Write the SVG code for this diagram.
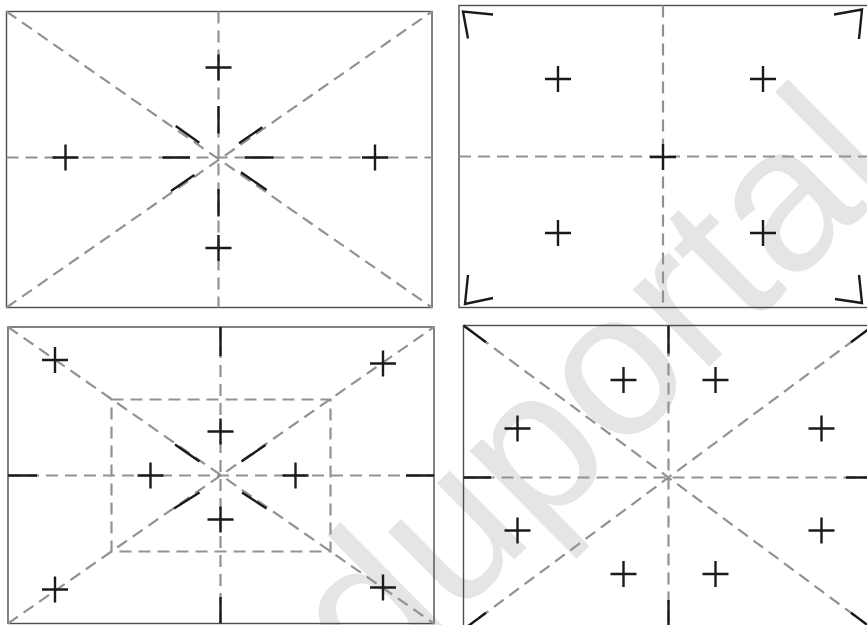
<svg xmlns="http://www.w3.org/2000/svg" xmlns:xlink="http://www.w3.org/1999/xlink" width="867" height="625" viewBox="0 0 867 625">
<style>
.frame{fill:none;stroke:#4d4d4d;stroke-width:1.4}
.dash{fill:none;stroke:#929292;stroke-width:2.2;stroke-dasharray:12 7}
.mark{fill:none;stroke:#1a1a1a;stroke-width:2.4}
.wm{font-family:"Liberation Sans",Arial,sans-serif;font-size:206px;fill:#e5e5e5}
</style>
<defs>
<path id="cross" d="M-13 0H13M0-13V13"/>
</defs>
<rect width="867" height="625" fill="#ffffff"/>
<text class="wm" x="373.7" y="699.2" transform="rotate(-44.7 373.7 699.2)">duportal</text>

<g id="panel1">
<rect class="frame" x="6.5" y="11.5" width="425.5" height="296"/>
<path class="dash" d="M6.5 11.5L432 307.5M6.5 307.5L432 11.5M218.5 11.5V307.5M6.5 157.5H432"/>
<path class="mark" d="M218.5 106V133.5M218.5 189V216.5M162.5 157.5H190M245 157.5H273.5M175.7 126L199.3 142.7M239 143.3L262.3 127.3M171 191L194.3 175M241 172.3L266.7 190"/>
<use xlink:href="#cross" class="mark" x="218.5" y="67.5"/>
<use xlink:href="#cross" class="mark" x="218.5" y="248"/>
<use xlink:href="#cross" class="mark" x="65.5" y="157.5"/>
<use xlink:href="#cross" class="mark" x="375" y="157.5"/>
</g>

<g id="panel2">
<rect class="frame" x="459" y="5.5" width="410" height="302"/>
<path class="dash" d="M663 5.5V307.5M459 156.5H869"/>
<path class="mark" d="M493 14.5L463 11.5L468 38.5M834 14.5L862 9.5L859 39M493 298L465 304L468 275M835 299L862 303L859 275"/>
<use xlink:href="#cross" class="mark" x="558" y="79"/>
<use xlink:href="#cross" class="mark" x="763" y="79"/>
<use xlink:href="#cross" class="mark" x="558" y="233"/>
<use xlink:href="#cross" class="mark" x="763" y="233"/>
<use xlink:href="#cross" class="mark" x="663" y="157"/>
</g>

<g id="panel3">
<rect class="frame" x="8" y="327" width="426" height="296.5"/>
<path class="dash" d="M8 327L434 623.5M8 623.5L434 327M220.5 327V623.5M8 475.5H434"/>
<rect class="dash" x="111.5" y="399.5" width="219" height="152"/>
<path class="mark" d="M220.5 327V356M220.5 597V623.5M8 475.5H37M406 475.5H434M175 444.5L199.5 461.5M241.5 461.5L265.5 445M174 508.5L199.5 492.5M242 492.5L266.5 508.5"/>
<use xlink:href="#cross" class="mark" x="55" y="360"/>
<use xlink:href="#cross" class="mark" x="383" y="363.5"/>
<use xlink:href="#cross" class="mark" x="55" y="589.5"/>
<use xlink:href="#cross" class="mark" x="383" y="587.5"/>
<use xlink:href="#cross" class="mark" x="220.5" y="431.5"/>
<use xlink:href="#cross" class="mark" x="150.5" y="475.5"/>
<use xlink:href="#cross" class="mark" x="295.5" y="475.5"/>
<use xlink:href="#cross" class="mark" x="220.5" y="519.5"/>
</g>

<g id="panel4">
<rect class="frame" x="463.5" y="325.5" width="410" height="304"/>
<path class="dash" d="M463.5 325.5L873.5 629.5M463.5 629.5L873.5 325.5M668.5 325.5V629.5M463.5 477.5H873.5"/>
<path class="mark" d="M463.5 325.5L486 342.2M873.5 325.5L851 342.2M463.5 629.5L486 612.8M873.5 629.5L851 612.8M668.5 325.5V353.5M668.5 600V629.5M463.5 477.5H491M846 477.5H873.5"/>
<use xlink:href="#cross" class="mark" x="623.5" y="380"/>
<use xlink:href="#cross" class="mark" x="715.5" y="380"/>
<use xlink:href="#cross" class="mark" x="517.5" y="428.5"/>
<use xlink:href="#cross" class="mark" x="821.5" y="428.5"/>
<use xlink:href="#cross" class="mark" x="517.5" y="530.5"/>
<use xlink:href="#cross" class="mark" x="821.5" y="530.5"/>
<use xlink:href="#cross" class="mark" x="623.5" y="574"/>
<use xlink:href="#cross" class="mark" x="715.5" y="574"/>
</g>
</svg>
